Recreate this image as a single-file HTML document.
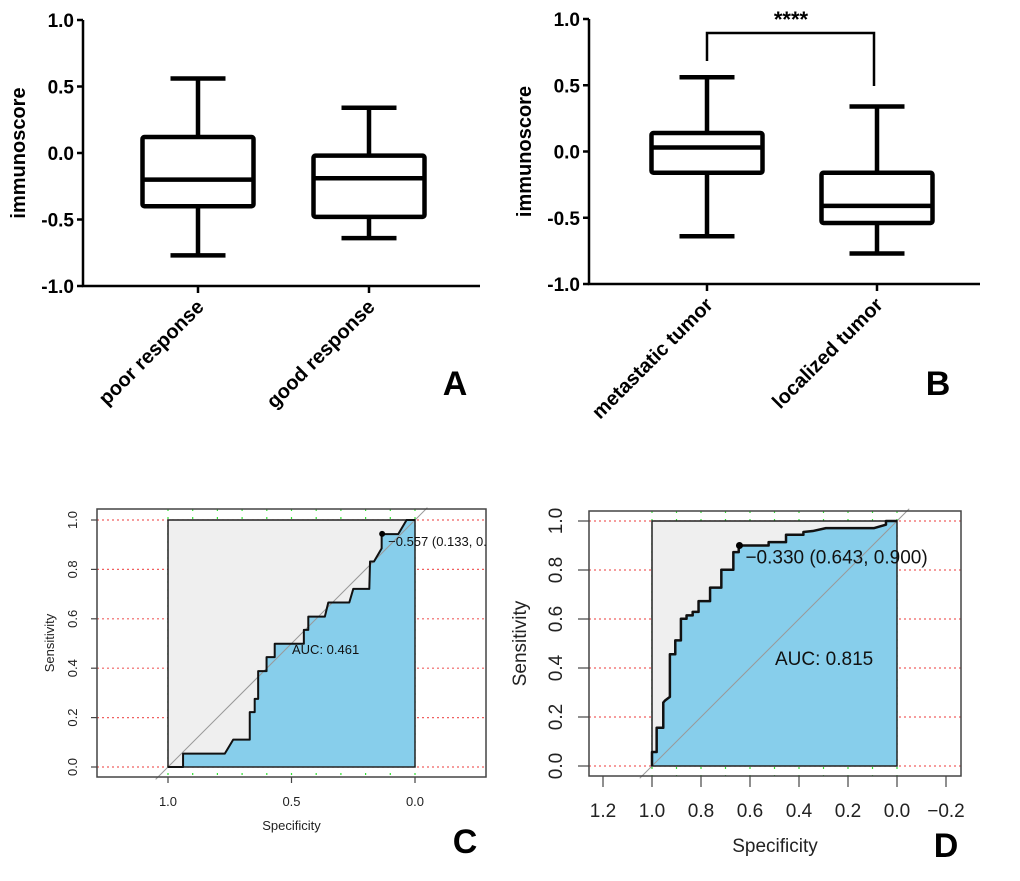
<!DOCTYPE html>
<html><head><meta charset="utf-8">
<style>
html,body{margin:0;padding:0;background:#fff;}
svg{display:block;font-family:"Liberation Sans",Arial,sans-serif;}
</style></head>
<body>
<svg id="fig" width="1020" height="881" viewBox="0 0 1020 881"></svg>
<script>
// ---- Panel A data ----
const catsA = ["poor response","good response"];
const maxA = [0.56, 0.34];
const q3A = [0.12, -0.02];
const medA = [-0.20, -0.19];
const q1A = [-0.40, -0.48];
const minA = [-0.77, -0.64];
// ---- Panel B data ----
const catsB = ["metastatic tumor","localized tumor"];
const maxB = [0.56, 0.34];
const q3B = [0.14, -0.16];
const medB = [0.03, -0.41];
const q1B = [-0.16, -0.54];
const minB = [-0.64, -0.77];
const yTicksBox = [1.0, 0.5, 0.0, -0.5, -1.0];
const yTickLabelsBox = ["1.0","0.5","0.0","-0.5","-1.0"];
// ---- Panel C data ----
const specC = [1.0,0.939,0.939,0.770,0.736,0.669,0.669,0.649,0.649,0.635,0.635,0.601,0.601,0.568,0.568,0.450,0.450,0.432,0.432,0.365,0.351,0.266,0.250,0.185,0.182,0.166,0.135,0.135,0.068,0.034,0.0];
const sensC = [0,0,0.054,0.054,0.111,0.111,0.222,0.222,0.276,0.276,0.388,0.388,0.445,0.445,0.499,0.499,0.555,0.555,0.609,0.609,0.666,0.666,0.721,0.721,0.832,0.832,0.885,0.943,0.943,1.0,1.0];
const xTicksC = [1.0, 0.5, 0.0];
const xTickLabelsC = ["1.0","0.5","0.0"];
// ---- Panel D data ----
const specD = [1.0,1.0,0.981,0.981,0.954,0.954,0.946,0.927,0.927,0.905,0.905,0.882,0.882,0.859,0.859,0.834,0.834,0.810,0.810,0.763,0.763,0.717,0.717,0.668,0.668,0.646,0.646,0.524,0.524,0.453,0.453,0.382,0.382,0.344,0.290,0.093,0.045,0.045,0.0];
const sensD = [0,0.057,0.057,0.156,0.156,0.259,0.268,0.282,0.456,0.456,0.513,0.513,0.601,0.601,0.615,0.615,0.629,0.629,0.673,0.673,0.728,0.728,0.801,0.801,0.873,0.873,0.900,0.900,0.914,0.914,0.944,0.944,0.955,0.959,0.971,0.971,0.985,1.0,1.0];
const xTicksD = [1.2,1.0,0.8,0.6,0.4,0.2,0.0,-0.2];
const xTickLabelsD = ["1.2","1.0","0.8","0.6","0.4","0.2","0.0","\u22120.2"];
const yTicksRoc = [0,0.2,0.4,0.6,0.8,1.0];
const yTickLabelsRoc = ["0.0","0.2","0.4","0.6","0.8","1.0"];

const NS="http://www.w3.org/2000/svg";
const svg=document.getElementById('fig');
function mk(tag,attrs,parent,text){
  const e=document.createElementNS(NS,tag);
  for(const k in attrs) e.setAttribute(k,attrs[k]);
  if(text!==undefined) e.textContent=text;
  (parent||svg).appendChild(e); return e;
}

// ---------- Box plot panels ----------
function boxPanel(o){
  const g=mk('g',{});
  
  
  const y=v=>o.y1-(v-(-1))/2*(o.y1-o.y0);
  const axis=mk('path',{d:`M${o.ax},${o.y0} V${o.y1} H${o.xEnd}`,stroke:'#000','stroke-width':2.5,fill:'none'},g);
  
  
  yTicksBox.forEach((t,i)=>{
    mk('line',{x1:o.ax-6,x2:o.ax,y1:y(t),y2:y(t),stroke:'#000','stroke-width':2.5},g);
    const tl=mk('text',{x:o.ax-9,y:y(t)+7,'text-anchor':'end','font-size':19,'font-weight':'bold'},g,yTickLabelsBox[i]);
    
    
  });
  const yt=mk('text',{transform:`translate(${o.ax-58},${(o.y0+o.y1)/2}) rotate(-90)`,'text-anchor':'middle','font-size':20,'font-weight':'bold'},g,'immunoscore');
  
  
  o.cats.forEach((c,i)=>{
    const cx=o.cx[i];
    mk('line',{x1:cx,x2:cx,y1:o.y1,y2:o.y1+7,stroke:'#000','stroke-width':2.5},g);
    const bw=111, cw=55;
    const b=mk('g',{},g);
    
    
    const st={stroke:'#000','stroke-width':4.5,fill:'none'};
    mk('line',Object.assign({x1:cx,x2:cx,y1:y(o.max[i]),y2:y(o.q3[i])},st),b);
    mk('line',Object.assign({x1:cx,x2:cx,y1:y(o.q1[i]),y2:y(o.min[i])},st),b);
    mk('line',Object.assign({x1:cx-cw/2,x2:cx+cw/2,y1:y(o.max[i]),y2:y(o.max[i])},st),b);
    mk('line',Object.assign({x1:cx-cw/2,x2:cx+cw/2,y1:y(o.min[i]),y2:y(o.min[i])},st),b);
    mk('rect',Object.assign({x:cx-bw/2,y:y(o.q3[i]),width:bw,height:y(o.q1[i])-y(o.q3[i]),rx:2},st),b);
    mk('line',Object.assign({x1:cx-bw/2,x2:cx+bw/2,y1:y(o.med[i]),y2:y(o.med[i])},st),b);
    const lab=mk('text',{transform:`translate(${cx+7},${o.y1+22}) rotate(-45)`,'text-anchor':'end','font-size':20,'font-weight':'bold'},g,c);
    
    
  });
  const pl=mk('text',{x:o.letterX,y:395,'text-anchor':'middle','font-size':34,'font-weight':'bold'},g,o.letter);
  
  
  return {g,y};
}
boxPanel({name:'panel-a',ax:83,y0:20,y1:286,xEnd:480,cx:[198,369],cats:catsA,max:maxA,q3:q3A,med:medA,q1:q1A,min:minA,letter:'A',letterX:455});
boxPanel({name:'panel-b',ax:589,y0:19,y1:284,xEnd:980,cx:[707,877],cats:catsB,max:maxB,q3:q3B,med:medB,q1:q1B,min:minB,letter:'B',letterX:938});
const br=mk('path',{d:`M707,61 V33 H874 V86`,stroke:'#000','stroke-width':2.5,fill:'none'});


const stars=mk('text',{x:791,y:27,'text-anchor':'middle','font-size':22,'font-weight':'bold'},svg,'****');



// ---------- ROC panels ----------
function rocPanel(o){
  const g=mk('g',{});
  
  
  const x=s=>o.bx1+(s-0)*(o.bx0-o.bx1);
  const y=v=>o.by1-v*(o.by1-o.by0);
  yTicksRoc.forEach(t=>{
    mk('line',{x1:o.fx0,x2:o.fx1,y1:y(t),y2:y(t),stroke:'#f06060','stroke-width':1.2,'stroke-dasharray':'2,3'},g);
  });
  for(let s=0;s<=1.0001;s+=0.1){
    mk('line',{x1:x(s),x2:x(s),y1:o.fy0,y2:o.fy1,stroke:'#33dd33','stroke-width':1.2,'stroke-dasharray':'2,6'},g);
  }
  mk('rect',{x:o.bx0,y:o.by0,width:o.bx1-o.bx0,height:o.by1-o.by0,fill:'#efefef'},g);
  let d=`M${x(o.spec[0])},${y(0)}`;
  o.spec.forEach((s,i)=>{d+=` L${x(s)},${y(o.sens[i])}`});
  d+=` L${x(0)},${y(0)} Z`;
  const area=mk('path',{d,fill:'#87ceeb',stroke:'none'},g);
  
  
  mk('line',{x1:x(1.05),y1:y(-0.05),x2:x(-0.05),y2:y(1.05),stroke:'#999','stroke-width':1},g);
  mk('rect',{x:o.bx0,y:o.by0,width:o.bx1-o.bx0,height:o.by1-o.by0,fill:'none',stroke:'#222','stroke-width':1.5},g);
  let c=''; o.spec.forEach((s,i)=>{c+=(i?' L':'M')+x(s)+','+y(o.sens[i])});
  const curve=mk('path',{d:c,fill:'none',stroke:'#111','stroke-width':o.lw,'stroke-linejoin':'round'},g);
  
  
  mk('rect',{x:o.fx0,y:o.fy0,width:o.fx1-o.fx0,height:o.fy1-o.fy0,fill:'none',stroke:'#444','stroke-width':1.5},g);
  const bp=mk('circle',{cx:x(o.best[0]),cy:y(o.best[1]),r:o.lw+1,fill:'#000'},g);
  
  
  const clip='clip-'+o.name;
  const cp=mk('clipPath',{id:clip},g);
  mk('rect',{x:o.fx0,y:o.fy0,width:o.fx1-o.fx0,height:o.fy1-o.fy0},cp);
  const bt=mk('text',{x:x(o.best[0])+6,y:y(o.best[1])+o.fs*0.95,'font-size':o.fs,fill:'#111','clip-path':`url(#${clip})`},g,o.bestLabel);
  
  
  const at=mk('text',{x:o.aucX,y:o.aucY,'font-size':o.fs,fill:'#111'},g,o.aucLabel);
  
  
  yTicksRoc.forEach((t,i)=>{
    mk('line',{x1:o.fx0,x2:o.fx0-o.tk,y1:y(t),y2:y(t),stroke:'#444','stroke-width':1.2},g);
    const tl=mk('text',{transform:`translate(${o.ylx},${y(t)}) rotate(-90)`,'text-anchor':'middle','font-size':o.fs,fill:'#222'},g,yTickLabelsRoc[i]);
    
    
  });
  o.xt.forEach((t,i)=>{
    mk('line',{x1:x(t),x2:x(t),y1:o.fy1,y2:o.fy1+o.tk,stroke:'#444','stroke-width':1.2},g);
    const tl=mk('text',{x:x(t),y:o.xly,'text-anchor':'middle','font-size':o.fs,fill:'#222'},g,o.xtl[i]);
    
    
  });
  const xt=mk('text',{x:(o.fx0+o.fx1)/2,y:o.xty,'text-anchor':'middle','font-size':o.fs,fill:'#222'},g,'Specificity');
  
  
  const yt=mk('text',{transform:`translate(${o.ytx},${(o.fy0+o.fy1)/2}) rotate(-90)`,'text-anchor':'middle','font-size':o.fs,fill:'#222'},g,'Sensitivity');
  
  
  const pl=mk('text',{x:o.letterX,y:o.letterY,'text-anchor':'middle','font-size':34,'font-weight':'bold'},g,o.letter);
  
  
}
rocPanel({name:'panel-c',fx0:97,fx1:486,fy0:509,fy1:777,bx0:168,bx1:415,by0:520,by1:767,spec:specC,sens:sensC,lw:2,
  best:[0.133,0.944],bestLabel:'\u22120.557 (0.133, 0.944)',aucLabel:'AUC: 0.461',aucX:292,aucY:654,fs:13,
  xt:xTicksC,xtl:xTickLabelsC,xly:806,xty:830,ylx:77,ytx:54,tk:6,letter:'C',letterX:465,letterY:853});
rocPanel({name:'panel-d',fx0:589,fx1:961,fy0:511,fy1:776,bx0:652,bx1:897,by0:521,by1:766,spec:specD,sens:sensD,lw:2.5,
  best:[0.643,0.900],bestLabel:'\u22120.330 (0.643, 0.900)',aucLabel:'AUC: 0.815',aucX:775,aucY:665,fs:19,
  xt:xTicksD,xtl:xTickLabelsD,xly:817,xty:852,ylx:562,ytx:526,tk:11,letter:'D',letterX:946,letterY:857});
</script>
</body></html>
